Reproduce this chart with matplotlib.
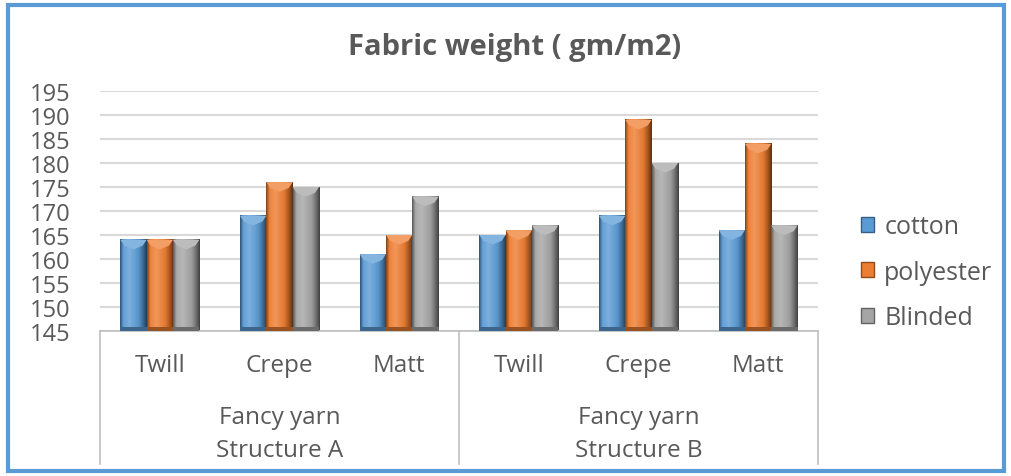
import numpy as np
import matplotlib.pyplot as plt
from matplotlib.patches import Rectangle, Polygon, Patch
from matplotlib.colors import to_rgb

plt.rcParams['font.family'] = ['Open Sans', 'DejaVu Sans']

# data
categories = ['Twill', 'Crepe', 'Matt', 'Twill', 'Crepe', 'Matt']
groups = ['Fancy yarn\nStructure A', 'Fancy yarn\nStructure B']
series = ['cotton', 'polyester', 'Blinded']
cotton = [164, 169, 161, 165, 169, 166]
polyester = [164, 176, 165, 166, 189, 184]
blinded = [164, 175, 173, 167, 180, 167]
colors = ['#5B9BD5', '#ED7D31', '#A5A5A5']
text_col = '#595959'

fig = plt.figure(figsize=(10.11, 4.77), dpi=100)
ax = fig.add_axes([100/1011, 1 - 332/477, 718/1011, 240/477])

ymin, ymax = 145, 195
bw = 0.22
x = np.arange(len(categories))


def shade(c, f):
    c = np.array(to_rgb(c))
    if f >= 0:
        return c + (1 - c) * f
    return c * (1 + f)


def bevel_bar(xc, h, col):
    left, right = xc - bw / 2, xc + bw / 2
    # horizontal gradient: dark edge, light highlight, dark edge
    stops = np.array([0.0, 0.12, 0.35, 0.7, 0.88, 1.0])
    facs = [-0.45, 0.05, 0.2, -0.05, -0.35, -0.6]
    t = np.linspace(0, 1, 40)
    grad = np.array([[np.interp(tt, stops, [shade(col, f)[k] for f in facs]) for k in range(3)] for tt in t])
    ax.imshow(grad[None, :, :], extent=(left, right, ymin, h), aspect='auto',
              interpolation='bilinear', zorder=2)
    # top bevel
    bh = 2.0
    ax.add_patch(Polygon([(left, h), (right, h), (right - bw * 0.15, h - bh * 0.6),
                          (xc, h - bh), (left + bw * 0.15, h - bh * 0.6)],
                         closed=True, facecolor=shade(col, 0.25), edgecolor='none', zorder=3))
    # bottom bevel
    ax.add_patch(Rectangle((left, ymin), bw, 0.8, facecolor=shade(col, -0.35),
                           edgecolor='none', zorder=3))


for i, (vals, col) in enumerate(zip([cotton, polyester, blinded], colors)):
    for xc, v in zip(x + (i - 1) * bw, vals):
        bevel_bar(xc, v, col)

ax.set_xlim(-0.5, len(categories) - 0.5)
ax.set_ylim(ymin, ymax)
ax.set_yticks(np.arange(145, 196, 5))
ax.yaxis.grid(True, color='#D9D9D9', linewidth=1.5, zorder=0)
ax.set_axisbelow(True)
for s in ['top', 'right', 'left']:
    ax.spines[s].set_visible(False)
ax.spines['bottom'].set_color('#BFBFBF')
ax.spines['bottom'].set_linewidth(1.2)
ax.tick_params(axis='y', length=0, pad=21, labelsize=17, labelcolor=text_col)
ax.set_xticks(x)
ax.set_xticklabels(categories)
ax.tick_params(axis='x', length=0, pad=16, labelsize=17.5, labelcolor=text_col)

# group labels and separators below the axis
for g, name in enumerate(groups):
    xc = (3 * g + 1.5) / 6
    ax.text(xc, -102.5 / 240, name, transform=ax.transAxes, ha='center', va='center',
            fontsize=17.5, color=text_col, linespacing=1.45)
for xs in [0, 0.5, 1]:
    ax.plot([xs, xs], [0, -133 / 240], transform=ax.transAxes, color='#BFBFBF',
            linewidth=1.2, clip_on=False)

fig.text(515 / 1011, 1 - 47 / 477, 'Fabric weight ( gm/m2)', ha='center', va='center',
         fontsize=21, fontweight='bold', color=text_col)

handles = [Patch(facecolor=c, edgecolor=shade(c, -0.4), linewidth=1) for c in colors]
fig.legend(handles, series, loc='center left', bbox_to_anchor=(838 / 1011, 1 - 273 / 477),
           frameon=False, fontsize=18, labelcolor=text_col, handlelength=0.55,
           handleheight=0.55, handletextpad=0.4, labelspacing=0.82)

fig.add_artist(Rectangle((8 / 1011, 1 - 472 / 477), 996 / 1011, 466 / 477,
                         transform=fig.transFigure, fill=False, edgecolor='#5B9BD5',
                         linewidth=3))

fig.savefig('out.png', dpi=100)
